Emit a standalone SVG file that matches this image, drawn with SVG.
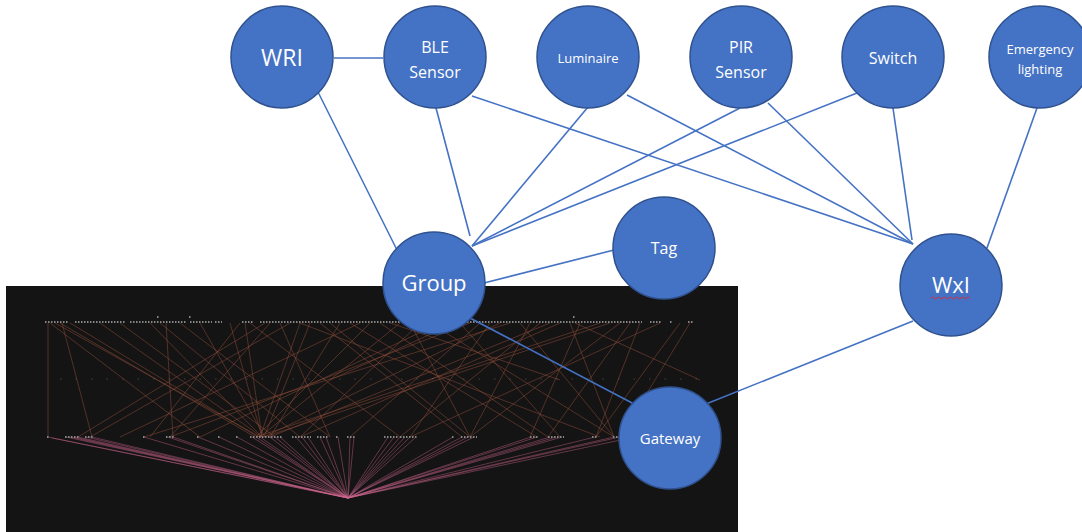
<svg xmlns="http://www.w3.org/2000/svg" width="1082" height="532" viewBox="0 0 1082 532">
<style>
.node{fill:#4472C4;stroke:#2F528F;stroke-width:1.5}
.t{fill:#ffffff;font-family:"Open Sans","Liberation Sans",sans-serif;text-anchor:middle}
.edge{stroke:#4472C4;stroke-width:1.6;fill:none}
.fan line{stroke:#d06890;stroke-width:0.6;opacity:0.7}
.cross line{stroke:#93503c;stroke-width:0.7;opacity:0.7}
.dots{stroke:#858585;stroke-width:2;stroke-dasharray:1.5 1.5}
</style>
<rect width="1082" height="532" fill="#ffffff"/>
<g id="graph-screenshot">
<rect x="6" y="286" width="732" height="246" fill="#151414"/>
<g class="cross">
<line x1="55" y1="323" x2="260" y2="437"/><line x1="60" y1="323" x2="255" y2="437"/><line x1="50" y1="323" x2="200" y2="437"/>
<line x1="70" y1="323" x2="258" y2="437"/><line x1="100" y1="323" x2="262" y2="437"/><line x1="120" y1="323" x2="275" y2="437"/>
<line x1="150" y1="323" x2="262" y2="437"/><line x1="160" y1="323" x2="300" y2="437"/><line x1="180" y1="323" x2="330" y2="437"/>
<line x1="200" y1="323" x2="265" y2="437"/><line x1="240" y1="323" x2="150" y2="437"/><line x1="245" y1="323" x2="262" y2="437"/>
<line x1="250" y1="323" x2="400" y2="437"/><line x1="270" y1="323" x2="170" y2="437"/><line x1="290" y1="323" x2="90" y2="437"/>
<line x1="300" y1="323" x2="260" y2="437"/><line x1="320" y1="323" x2="462" y2="437"/><line x1="340" y1="323" x2="270" y2="437"/>
<line x1="360" y1="323" x2="120" y2="437"/><line x1="380" y1="323" x2="548" y2="437"/><line x1="400" y1="323" x2="260" y2="437"/>
<line x1="420" y1="323" x2="300" y2="437"/><line x1="440" y1="323" x2="200" y2="437"/><line x1="460" y1="323" x2="560" y2="437"/>
<line x1="480" y1="323" x2="350" y2="437"/><line x1="500" y1="323" x2="264" y2="437"/><line x1="520" y1="323" x2="614" y2="437"/>
<line x1="540" y1="323" x2="400" y2="437"/><line x1="560" y1="323" x2="300" y2="437"/><line x1="580" y1="323" x2="530" y2="437"/>
<line x1="600" y1="323" x2="256" y2="437"/><line x1="620" y1="323" x2="470" y2="437"/><line x1="640" y1="323" x2="596" y2="437"/>
<line x1="660" y1="323" x2="410" y2="437"/><line x1="690" y1="323" x2="620" y2="437"/><line x1="300" y1="323" x2="600" y2="437"/>
<line x1="350" y1="323" x2="537" y2="437"/><line x1="430" y1="323" x2="614" y2="437"/><line x1="470" y1="323" x2="170" y2="437"/>
<line x1="510" y1="323" x2="144" y2="437"/><line x1="550" y1="323" x2="270" y2="437"/><line x1="610" y1="323" x2="264" y2="437"/>
<line x1="265" y1="323" x2="78" y2="437"/><line x1="280" y1="323" x2="330" y2="437"/><line x1="330" y1="323" x2="470" y2="437"/>
<line x1="48" y1="323" x2="48" y2="437"/><line x1="62" y1="323" x2="92" y2="437"/><line x1="575" y1="323" x2="700" y2="380"/>
<line x1="455" y1="323" x2="330" y2="380"/><line x1="390" y1="323" x2="560" y2="380"/><line x1="166" y1="323" x2="173" y2="437"/>
<line x1="230" y1="323" x2="262" y2="437"/><line x1="310" y1="323" x2="264" y2="437"/><line x1="370" y1="323" x2="256" y2="437"/>
<line x1="410" y1="323" x2="470" y2="437"/><line x1="490" y1="323" x2="410" y2="437"/><line x1="530" y1="323" x2="470" y2="437"/>
<line x1="570" y1="323" x2="614" y2="437"/><line x1="630" y1="323" x2="548" y2="437"/><line x1="680" y1="323" x2="596" y2="437"/>
</g>
<g class="fan">
<line x1="348" y1="498" x2="48" y2="437"/><line x1="348" y1="498" x2="52" y2="438"/><line x1="348" y1="498" x2="66" y2="437"/>
<line x1="348" y1="498" x2="70" y2="437"/><line x1="348" y1="498" x2="74" y2="437"/><line x1="348" y1="498" x2="78" y2="437"/>
<line x1="348" y1="498" x2="86" y2="437"/><line x1="348" y1="498" x2="92" y2="437"/><line x1="348" y1="498" x2="144" y2="437"/>
<line x1="348" y1="498" x2="168" y2="437"/><line x1="348" y1="498" x2="173" y2="437"/><line x1="348" y1="498" x2="198" y2="437"/>
<line x1="348" y1="498" x2="219" y2="437"/><line x1="348" y1="498" x2="237" y2="437"/><line x1="348" y1="498" x2="252" y2="437"/>
<line x1="348" y1="498" x2="256" y2="437"/><line x1="348" y1="498" x2="260" y2="437"/><line x1="348" y1="498" x2="270" y2="437"/>
<line x1="348" y1="498" x2="275" y2="437"/><line x1="348" y1="498" x2="280" y2="437"/><line x1="348" y1="498" x2="296" y2="437"/>
<line x1="348" y1="498" x2="302" y2="437"/><line x1="348" y1="498" x2="308" y2="437"/><line x1="348" y1="498" x2="320" y2="437"/>
<line x1="348" y1="498" x2="326" y2="437"/><line x1="348" y1="498" x2="338" y2="437"/><line x1="348" y1="498" x2="350" y2="437"/>
<line x1="348" y1="498" x2="354" y2="437"/><line x1="348" y1="498" x2="388" y2="437"/><line x1="348" y1="498" x2="394" y2="437"/>
<line x1="348" y1="498" x2="400" y2="437"/><line x1="348" y1="498" x2="405" y2="437"/><line x1="348" y1="498" x2="410" y2="437"/>
<line x1="348" y1="498" x2="416" y2="437"/><line x1="348" y1="498" x2="453" y2="437"/><line x1="348" y1="498" x2="462" y2="437"/>
<line x1="348" y1="498" x2="468" y2="437"/><line x1="348" y1="498" x2="474" y2="437"/><line x1="348" y1="498" x2="531" y2="437"/>
<line x1="348" y1="498" x2="537" y2="437"/><line x1="348" y1="498" x2="550" y2="437"/><line x1="348" y1="498" x2="556" y2="437"/>
<line x1="348" y1="498" x2="562" y2="437"/><line x1="348" y1="498" x2="595" y2="437"/><line x1="348" y1="498" x2="614" y2="437"/>
<line x1="348" y1="498" x2="620" y2="437"/><line x1="348" y1="498" x2="630" y2="438"/>
</g>
<g>
<line class="dots" x1="45" y1="322" x2="68" y2="322"/><line class="dots" x1="75" y1="322" x2="126" y2="322"/>
<line class="dots" x1="130" y1="322" x2="186" y2="322"/><line class="dots" x1="190" y1="322" x2="212" y2="322"/>
<line class="dots" x1="215" y1="322" x2="222" y2="322"/><line class="dots" x1="242" y1="322" x2="253" y2="322"/>
<line class="dots" x1="260" y1="322" x2="642" y2="322"/><line class="dots" x1="650" y1="322" x2="662" y2="322"/>
<line class="dots" x1="670" y1="322" x2="672" y2="322"/><line class="dots" x1="688" y1="322" x2="694" y2="322"/>
<line class="dots" x1="157" y1="317" x2="159" y2="317"/><line class="dots" x1="189" y1="317" x2="191" y2="317"/><line class="dots" x1="573" y1="317" x2="575" y2="317"/>
<line class="dots" x1="47" y1="437" x2="49" y2="437"/><line class="dots" x1="65" y1="437" x2="79" y2="437"/><line class="dots" x1="85" y1="437" x2="94" y2="437"/>
<line class="dots" x1="143" y1="437" x2="145" y2="437"/><line class="dots" x1="166" y1="437" x2="174" y2="437"/><line class="dots" x1="197" y1="437" x2="199" y2="437"/>
<line class="dots" x1="218" y1="437" x2="220" y2="437"/><line class="dots" x1="236" y1="437" x2="238" y2="437"/><line class="dots" x1="250" y1="437" x2="282" y2="437"/>
<line class="dots" x1="292" y1="437" x2="311" y2="437"/><line class="dots" x1="317" y1="437" x2="329" y2="437"/><line class="dots" x1="336" y1="437" x2="338" y2="437"/>
<line class="dots" x1="347" y1="437" x2="355" y2="437"/><line class="dots" x1="384" y1="437" x2="398" y2="437"/><line class="dots" x1="400" y1="437" x2="417" y2="437"/>
<line class="dots" x1="452" y1="437" x2="454" y2="437"/><line class="dots" x1="461" y1="437" x2="477" y2="437"/><line class="dots" x1="530" y1="437" x2="538" y2="437"/>
<line class="dots" x1="548" y1="437" x2="564" y2="437"/><line class="dots" x1="592" y1="437" x2="598" y2="437"/><line class="dots" x1="613" y1="437" x2="620" y2="437"/>
<line class="dots" x1="60" y1="379" x2="700" y2="379" style="opacity:0.2;stroke-dasharray:1.5 14"/>
</g>
</g>
<g id="connectors">
<line class="edge" x1="334" y1="58" x2="383" y2="58"/>
<line class="edge" x1="318" y1="92" x2="397" y2="250"/>
<line class="edge" x1="436" y1="108" x2="470" y2="236"/>
<line class="edge" x1="472" y1="96" x2="913" y2="244"/>
<line class="edge" x1="588" y1="107" x2="472" y2="246"/>
<line class="edge" x1="627" y1="95" x2="913" y2="244"/>
<line class="edge" x1="740" y1="108" x2="472" y2="246"/>
<line class="edge" x1="768" y1="103" x2="913" y2="244"/>
<line class="edge" x1="857" y1="93" x2="472" y2="246"/>
<line class="edge" x1="893" y1="108" x2="912" y2="240"/>
<line class="edge" x1="1037" y1="108" x2="987" y2="248"/>
<line class="edge" x1="614" y1="250" x2="484" y2="283"/>
<line class="edge" x1="470" y1="318" x2="634" y2="404"/>
<line class="edge" x1="913" y1="321" x2="706" y2="404"/>
</g>
<g id="node-wri"><circle class="node" cx="282" cy="57" r="51"/><text class="t" x="282" y="66" font-size="23">WRI</text></g>
<g id="node-ble"><circle class="node" cx="435" cy="57" r="51"/><text class="t" x="435" y="53" font-size="16">BLE</text><text class="t" x="435" y="78" font-size="16">Sensor</text></g>
<g id="node-luminaire"><circle class="node" cx="588" cy="57" r="51"/><text class="t" x="588" y="63" font-size="13">Luminaire</text></g>
<g id="node-pir"><circle class="node" cx="741" cy="57" r="51"/><text class="t" x="741" y="53" font-size="16">PIR</text><text class="t" x="741" y="78" font-size="16">Sensor</text></g>
<g id="node-switch"><circle class="node" cx="893" cy="57" r="51"/><text class="t" x="893" y="64" font-size="16">Switch</text></g>
<g id="node-emergency"><circle class="node" cx="1040" cy="57" r="51"/><text class="t" x="1040" y="54" font-size="13">Emergency</text><text class="t" x="1040" y="74" font-size="13">lighting</text></g>
<g id="node-tag"><circle class="node" cx="664" cy="248" r="51"/><text class="t" x="664" y="254" font-size="16">Tag</text></g>
<g id="node-group"><circle class="node" cx="434" cy="283" r="51"/><text class="t" x="434" y="291" font-size="22">Group</text></g>
<g id="node-wxi"><circle class="node" cx="951" cy="285" r="51"/><text class="t" x="951" y="293" font-size="22">WxI</text>
<path d="M931 298 q1.5 -2 3 0 t3 0 t3 0 t3 0 t3 0 t3 0 t3 0 t3 0 t3 0 t3 0 t3 0 t3 0 t3 0" fill="none" stroke="#d03040" stroke-width="1"/></g>
<g id="node-gateway"><circle class="node" cx="670" cy="438" r="51"/><text class="t" x="670" y="444" font-size="15">Gateway</text></g>
</svg>
